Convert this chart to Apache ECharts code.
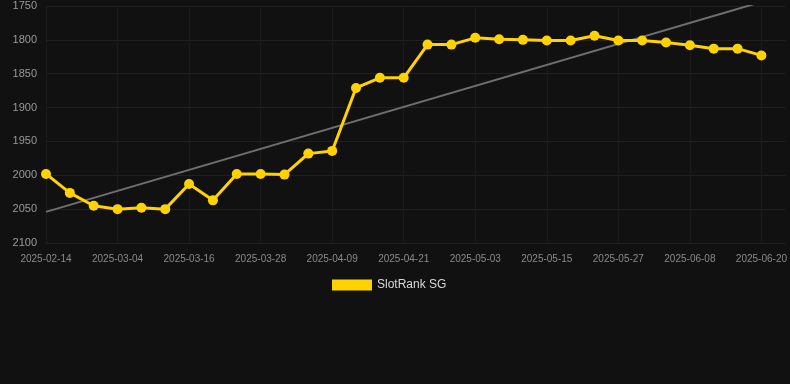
<!DOCTYPE html>
<html>
<head>
<meta charset="utf-8">
<script src="https://cdn.jsdelivr.net/npm/echarts@6/dist/echarts.min.js"></script>
<style>
    html, body { margin: 0; padding: 0; background: #111111; }
    #chart { width: 790px; height: 384px; }
</style>
</head>
<body>
<div id="chart"></div>
<script>
// dates on the category axis
const dates = [
    '2025-02-14', '2025-02-20', '2025-02-26', '2025-03-04', '2025-03-08', '2025-03-12',
    '2025-03-16', '2025-03-20', '2025-03-24', '2025-03-28', '2025-04-01', '2025-04-05',
    '2025-04-09', '2025-04-13', '2025-04-17', '2025-04-21', '2025-04-25', '2025-04-29',
    '2025-05-03', '2025-05-07', '2025-05-11', '2025-05-15', '2025-05-19', '2025-05-23',
    '2025-05-27', '2025-05-31', '2025-06-04', '2025-06-08', '2025-06-12', '2025-06-16',
    '2025-06-20'
];
// rank values (lower is better, axis inverted)
const rankValues = [
    1998, 2026, 2045, 2050, 2048, 2050, 2013, 2037, 1998, 1998, 1999, 1968,
    1964, 1871, 1856, 1856, 1807, 1807, 1797, 1799, 1800, 1801, 1801, 1794,
    1801, 1801, 1804, 1808, 1813, 1813, 1823
];
// trend line end points (first and last date)
const trendStart = 2054;
const trendEnd = 1744;
const yTicks = { min: 1750, max: 2100, interval: 50 };

const trendValues = dates.map((d, i) => {
    if (i === 0) return trendStart;
    if (i === dates.length - 1) return trendEnd;
    return null;
});

const myChart = echarts.init(document.getElementById('chart'));
const option = {
    backgroundColor: '#111111',
    animation: false,
    grid: {
        left: 46,
        right: 4,
        top: 6,
        bottom: 141,
        containLabel: false
    },
    legend: {
        data: [{ name: 'SlotRank SG', icon: 'rect' }],
        left: 327,
        top: 274,
        itemWidth: 40,
        itemHeight: 11,
        itemGap: 5,
        textStyle: { color: '#d8d8d8', fontSize: 12, fontFamily: 'Liberation Sans, Arial, sans-serif' }
    },
    xAxis: {
        type: 'category',
        data: dates,
        boundaryGap: false,
        // a little room after the last date, like the original
        max: dates.length,
        axisLine: { show: false },
        axisTick: { show: false },
        axisLabel: {
            interval: 2,
            color: '#8a8a8a',
            fontSize: 10,
            margin: 11,
            fontFamily: 'Liberation Sans, Arial, sans-serif'
        },
        splitLine: {
            show: true,
            interval: 2,
            lineStyle: { color: '#1a1a1a', width: 1 }
        }
    },
    yAxis: {
        type: 'value',
        inverse: true,
        min: yTicks.min,
        max: yTicks.max,
        interval: yTicks.interval,
        axisLine: { show: false },
        axisTick: { show: false },
        axisLabel: {
            color: '#9a9a9a',
            fontSize: 11,
            margin: 9,
            formatter: (v) => String(v),
            fontFamily: 'Liberation Sans, Arial, sans-serif'
        },
        splitLine: { lineStyle: { color: '#202020', width: 1 } }
    },
    series: [
        {
            name: 'Trend',
            type: 'line',
            data: trendValues,
            connectNulls: true,
            showSymbol: false,
            symbol: 'none',
            lineStyle: { color: '#6f6f6f', width: 2 },
            z: 1
        },
        {
            name: 'SlotRank SG',
            type: 'line',
            data: rankValues,
            symbol: 'circle',
            symbolSize: 10,
            itemStyle: { color: '#FFD200' },
            lineStyle: { color: '#FFD200', width: 3 },
            z: 2
        }
    ]
};
myChart.setOption(option);
</script>
</body>
</html>
